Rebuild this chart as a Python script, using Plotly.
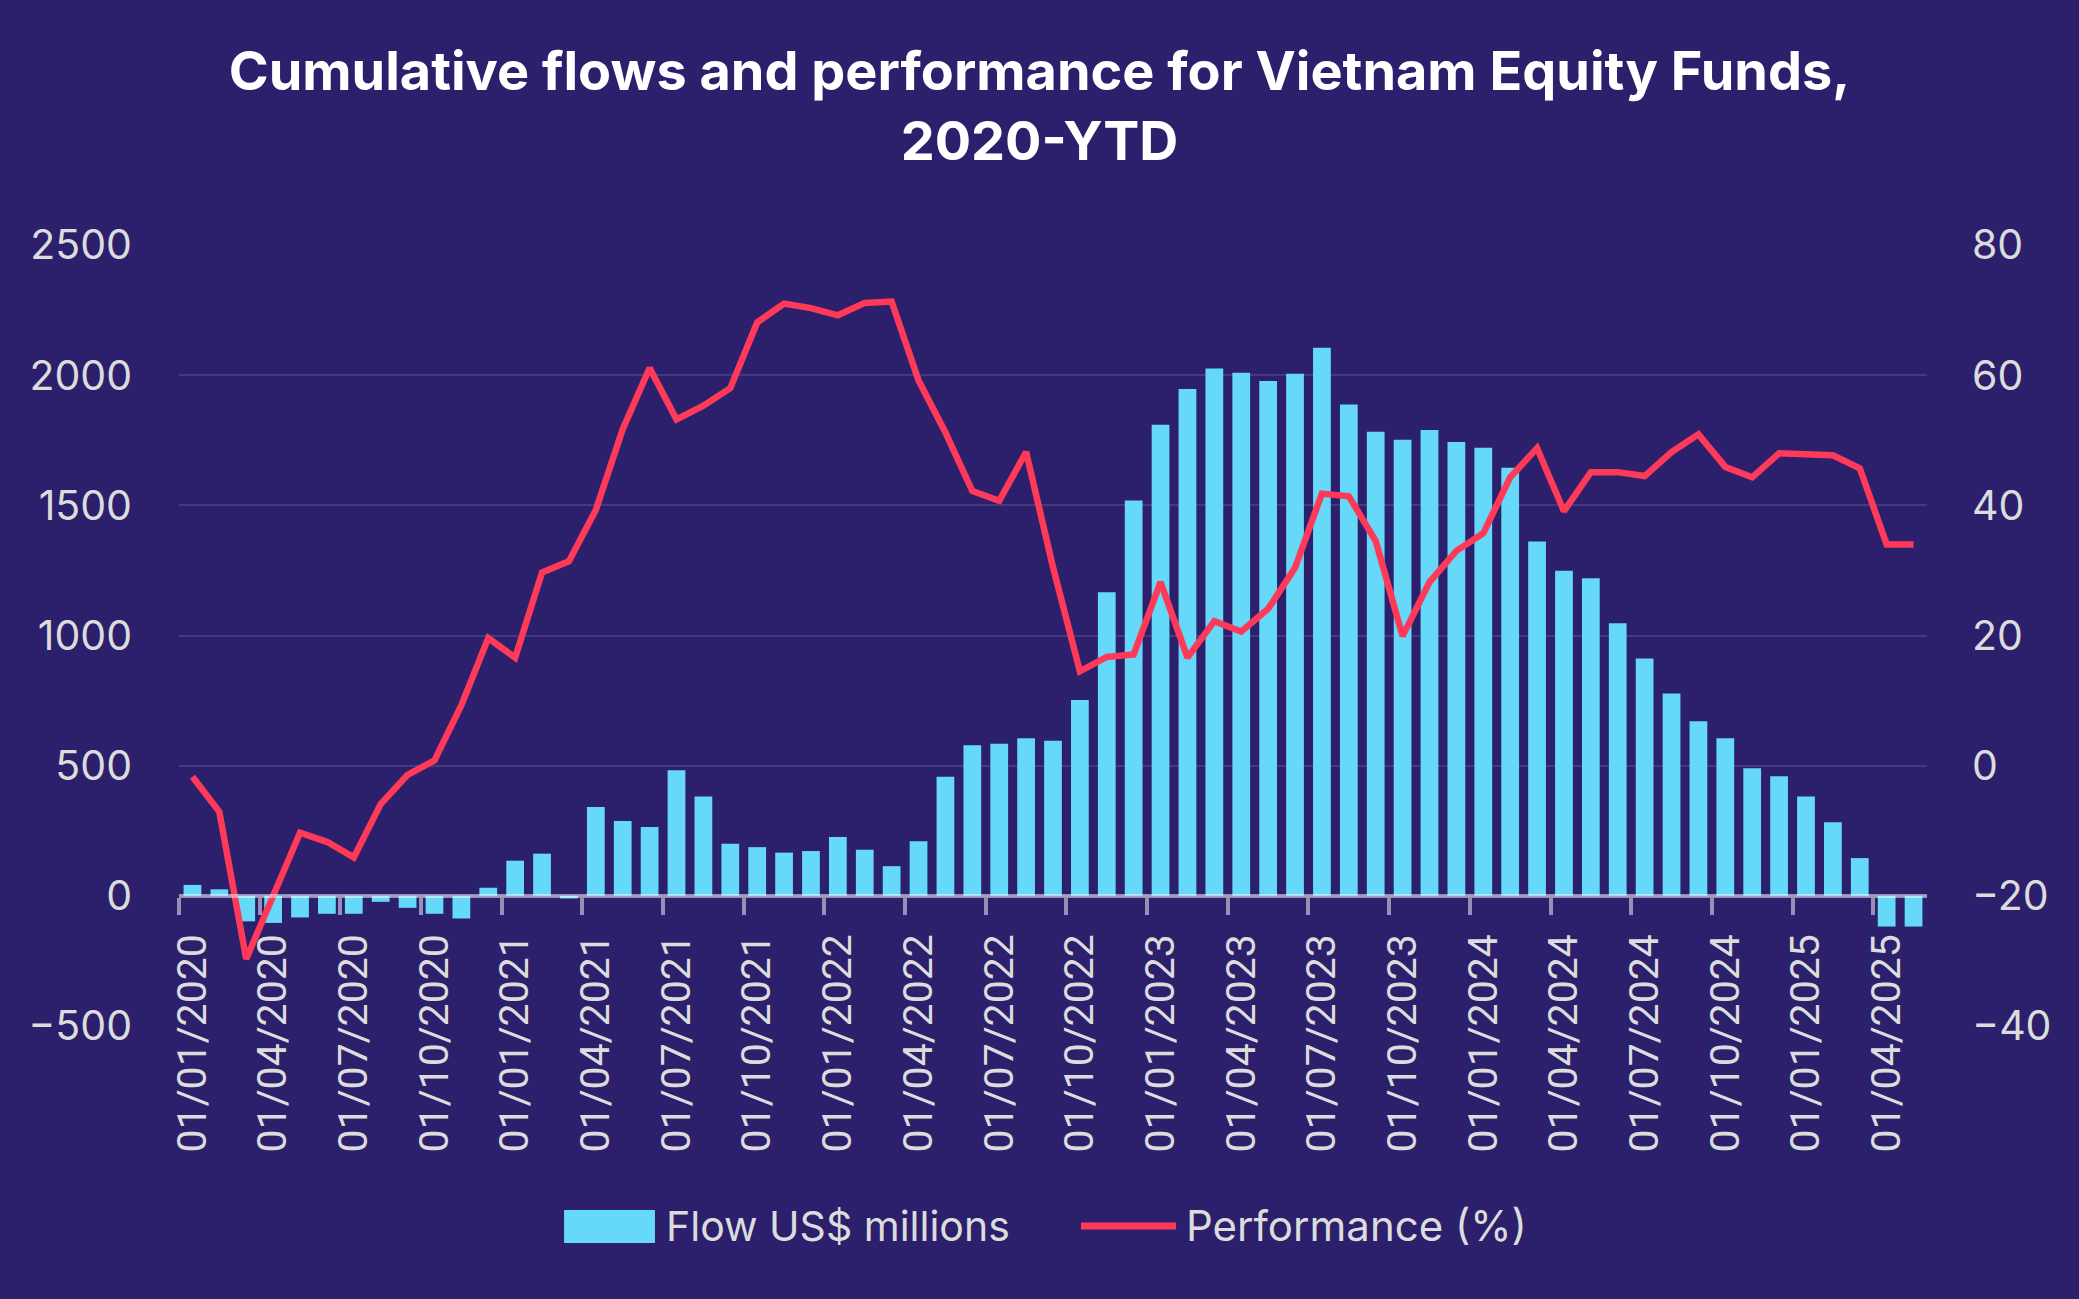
import plotly.graph_objects as go
import pandas as pd

# ---------------- data ----------------
months = [d.strftime("%d/%m/%Y") for d in pd.date_range("2020-01-01", "2025-05-01", freq="MS")]

flows = [
    42, 25, -98, -104, -83, -69, -69, -23, -46, -69, -87, 31,          # 2020
    135, 162, -10, 341, 287, 264, 482, 382, 200, 187, 166, 172,        # 2021
    226, 177, 114, 210, 457, 578, 584, 605, 596, 752, 1166, 1519,      # 2022
    1810, 1947, 2026, 2009, 1978, 2005, 2105, 1887, 1783, 1752, 1789, 1743,  # 2023
    1721, 1644, 1361, 1249, 1220, 1047, 912, 777, 671, 605, 490, 459,  # 2024
    382, 283, 145, -118, -118,                                         # 2025
]

performance = [
    -1.7, -7.1, -29.7, -20.2, -10.3, -11.7, -14.1, -5.9, -1.4, 0.8, 9.3, 19.6,
    16.6, 29.7, 31.4, 39.3, 51.7, 61.1, 53.2, 55.3, 58.0, 68.1, 71.0, 70.3,
    69.2, 71.1, 71.3, 59.2, 51.2, 42.2, 40.7, 48.2, 30.5, 14.5, 16.7, 17.1,
    28.2, 16.6, 22.2, 20.6, 24.1, 30.4, 41.8, 41.4, 34.5, 19.9, 28.2, 33.0,
    35.7, 44.3, 48.8, 39.1, 45.1, 45.1, 44.5, 48.2, 50.9, 45.9, 44.3, 48.0,
    47.8, 47.7, 45.7, 34.0, 34.0,
]

left_ticks = [-500, 0, 500, 1000, 1500, 2000, 2500]
right_ticks = [-40, -20, 0, 20, 40, 60, 80]

title_text = "Cumulative flows and performance for Vietnam Equity Funds,<br>2020-YTD"
series_names = ["Flow US$ millions", "Performance (%)"]

# ---------------- style ----------------
BG = "#2c206c"
GRID = "#44397f"
BAR = "#66d9f8"
LINE = "#ff3a58"
TXT = "#dcdcdc"
AXIS = "rgba(255,255,255,0.5)"

x_idx = list(range(len(months)))
label_idx = x_idx[::3]

fig = go.Figure()
fig.add_trace(go.Bar(
    x=x_idx, y=flows, name=series_names[0],
    marker=dict(color=BAR, line=dict(width=0)),
    showlegend=False,
))
fig.add_trace(go.Scatter(
    x=x_idx, y=performance, name=series_names[1], yaxis="y2",
    mode="lines", line=dict(color=LINE, width=6.5),
    showlegend=False,
))

# manual legend (decoration)
leg_y = -0.256
fig.add_shape(type="rect", xref="paper", yref="paper",
              x0=0.2203, x1=0.2723, y0=-0.2778, y1=-0.2356,
              fillcolor=BAR, line=dict(width=0))
fig.add_shape(type="line", xref="paper", yref="paper",
              x0=0.516, x1=0.5704, y0=leg_y, y1=leg_y,
              line=dict(color=LINE, width=7))
fig.add_annotation(xref="paper", yref="paper", x=0.2775, y=leg_y,
                   xanchor="left", yanchor="middle", showarrow=False,
                   text=series_names[0], font=dict(family="Inter", size=41, color=TXT))
fig.add_annotation(xref="paper", yref="paper", x=0.575, y=leg_y,
                   xanchor="left", yanchor="middle", showarrow=False,
                   text=series_names[1], font=dict(family="Inter", size=42, color=TXT))

fig.update_layout(
    width=2079, height=1299,
    paper_bgcolor=BG, plot_bgcolor=BG,
    margin=dict(l=179, r=152, t=245, b=273, autoexpand=False),
    bargap=0.34,
    title=dict(text=title_text, x=0.5, xanchor="center", xref="container",
               y=0.931, yanchor="top", yref="container",
               font=dict(family="Inter", size=54, color="white", weight=700)),
    xaxis=dict(
        range=[-0.5, len(months) - 0.5],
        anchor="free", position=1/6,
        showline=True, linecolor=AXIS, linewidth=4,
        showgrid=False, zeroline=False,
        tickmode="array", tickvals=label_idx, ticktext=[months[i] for i in label_idx],
        tickangle=-90, ticks="", ticklabelstandoff=20,
        tickfont=dict(family="Roboto", size=41, color=TXT),
        minor=dict(tickmode="array", tickvals=[i - 0.5 for i in label_idx],
                   ticks="outside", ticklen=17, tickwidth=4, tickcolor=AXIS,
                   showgrid=False),
    ),
    yaxis=dict(
        range=[-500, 2500], tickmode="array", tickvals=left_ticks,
        showgrid=True, gridcolor=GRID, gridwidth=2,
        zeroline=False, showline=False, ticks="",
        ticklabelstandoff=46,
        tickfont=dict(family="Inter", size=41, color=TXT),
    ),
    yaxis2=dict(
        range=[-40, 80], tickmode="array", tickvals=right_ticks,
        overlaying="y", side="right",
        showgrid=False, zeroline=False, showline=False, ticks="",
        ticklabelstandoff=44,
        tickfont=dict(family="Inter", size=41, color=TXT),
    ),
)

fig.write_html("out.html", config={"displayModeBar": False},
               post_script="document.body.style.margin='0';document.body.style.overflow='hidden';")
